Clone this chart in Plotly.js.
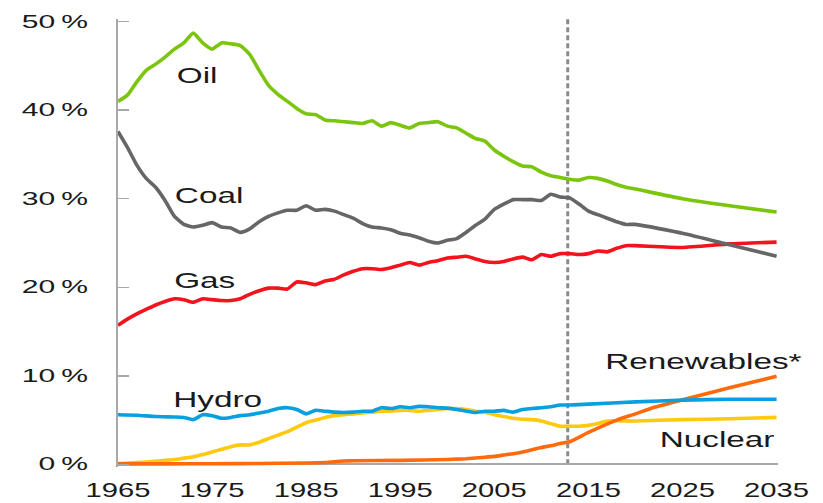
<!DOCTYPE html>
<html>
<head>
<meta charset="utf-8">
<script src="https://cdn.plot.ly/plotly-3.0.1.min.js"></script>
<style>
  html, body { margin: 0; padding: 0; background: #fff; }
  #chart { width: 823px; height: 503px; }
</style>
</head>
<body>
<div id="chart"></div>
<script>
// ---- Data (share of primary energy, %) ----
const oilYears = [1965,1966,1967,1968,1969,1970,1971,1972,1973,1974,1975,1976,1977,1978,1979,1980,1981,1982,1983,1984,1985,1986,1987,1988,1989,1990,1991,1992,1993,1994,1995,1996,1997,1998,1999,2000,2001,2002,2003,2004,2005,2006,2007,2008,2009,2010,2011,2012,2013,2014,2015,2016,2017,2018,2019,2020,2025,2030,2035];
const oilShare = [41.0,41.7,43.2,44.5,45.2,46.0,46.9,47.6,48.7,47.6,46.9,47.6,47.5,47.3,46.3,44.5,42.8,41.8,41.0,40.2,39.6,39.5,38.9,38.8,38.7,38.6,38.5,38.8,38.2,38.6,38.3,38.0,38.5,38.6,38.7,38.2,38.0,37.4,36.8,36.5,35.5,34.8,34.2,33.7,33.6,33.0,32.6,32.4,32.2,32.1,32.4,32.3,32.0,31.6,31.3,31.1,30.0,29.2,28.5];

const coalYears = [1965,1966,1967,1968,1969,1970,1971,1972,1973,1974,1975,1976,1977,1978,1979,1980,1981,1982,1983,1984,1985,1986,1987,1988,1989,1990,1991,1992,1993,1994,1995,1996,1997,1998,1999,2000,2001,2002,2003,2004,2005,2006,2007,2008,2009,2010,2011,2012,2013,2014,2015,2016,2017,2018,2019,2020,2025,2030,2035];
const coalShare = [37.6,35.8,33.8,32.3,31.3,29.8,28.0,27.1,26.8,27.0,27.3,26.8,26.7,26.2,26.6,27.4,28.0,28.4,28.7,28.7,29.2,28.7,28.8,28.6,28.2,27.8,27.2,26.8,26.7,26.5,26.1,25.9,25.6,25.2,25.0,25.3,25.5,26.2,27.0,27.7,28.8,29.4,29.9,29.9,29.9,29.8,30.5,30.2,30.1,29.4,28.6,28.2,27.8,27.4,27.1,27.1,26.1,24.8,23.5];

const gasYears = [1965,1966,1967,1968,1969,1970,1971,1972,1973,1974,1975,1976,1977,1978,1979,1980,1981,1982,1983,1984,1985,1986,1987,1988,1989,1990,1991,1992,1993,1994,1995,1996,1997,1998,1999,2000,2001,2002,2003,2004,2005,2006,2007,2008,2009,2010,2011,2012,2013,2014,2015,2016,2017,2018,2019,2020,2025,2030,2035];
const gasShare = [15.7,16.4,17.0,17.5,18.0,18.4,18.7,18.6,18.3,18.7,18.6,18.5,18.5,18.7,19.2,19.6,19.9,19.9,19.8,20.6,20.5,20.3,20.7,20.9,21.4,21.8,22.1,22.1,22.0,22.2,22.5,22.8,22.5,22.8,23.0,23.3,23.4,23.5,23.2,22.9,22.8,22.9,23.2,23.4,23.1,23.7,23.5,23.8,23.8,23.7,23.8,24.1,24.0,24.4,24.7,24.7,24.5,24.9,25.1];

const hydroYears = [1965,1967,1969,1971,1972,1973,1974,1975,1976,1977,1978,1979,1980,1981,1982,1983,1984,1985,1986,1987,1988,1989,1990,1991,1992,1993,1994,1995,1996,1997,1998,1999,2000,2001,2002,2003,2004,2005,2006,2007,2008,2009,2010,2011,2012,2013,2015,2020,2025,2030,2035];
const hydroShare = [5.6,5.55,5.4,5.35,5.3,5.05,5.6,5.5,5.2,5.3,5.5,5.6,5.8,6.0,6.3,6.4,6.2,5.7,6.1,6.0,5.9,5.85,5.9,6.0,6.0,6.4,6.3,6.5,6.4,6.55,6.5,6.4,6.35,6.2,6.0,5.85,6.0,6.0,6.1,5.9,6.2,6.3,6.4,6.5,6.7,6.7,6.8,7.05,7.25,7.35,7.35];

const nuclearYears = [1965,1966,1967,1968,1969,1970,1971,1972,1973,1974,1975,1976,1977,1978,1979,1980,1981,1982,1983,1984,1985,1986,1987,1988,1989,1990,1991,1992,1993,1994,1995,1996,1997,1998,1999,2000,2001,2002,2003,2004,2005,2006,2007,2008,2009,2010,2011,2012,2013,2014,2015,2016,2017,2020,2025,2030,2035];
const nuclearShare = [0.1,0.15,0.2,0.25,0.35,0.45,0.55,0.7,0.85,1.1,1.4,1.7,2.0,2.2,2.2,2.5,2.9,3.3,3.7,4.2,4.7,5.0,5.3,5.5,5.6,5.7,5.8,5.9,6.0,6.0,6.1,6.1,6.0,6.1,6.2,6.3,6.3,6.2,6.0,5.9,5.6,5.4,5.2,5.1,5.05,4.9,4.6,4.3,4.3,4.3,4.4,4.6,4.9,4.9,5.05,5.15,5.3];

const renewYears = [1965,1970,1975,1980,1985,1987,1988,1989,1990,1995,2000,2002,2004,2005,2006,2007,2008,2009,2010,2011,2012,2013,2015,2018,2020,2022,2025,2030,2035];
const renewShare = [0.05,0.05,0.07,0.1,0.15,0.2,0.3,0.37,0.4,0.45,0.55,0.64,0.8,0.9,1.05,1.2,1.4,1.65,1.9,2.1,2.35,2.55,3.6,5.0,5.7,6.45,7.3,8.65,9.95];

const forecastStart = 2012.8;

const yTickValues = [0,10,20,30,40,50];
const yTickLabels = ["0\u2009%","10\u2009%","20\u2009%","30\u2009%","40\u2009%","50\u2009%"];
const xTickValues = [1965,1975,1985,1995,2005,2015,2025,2035];
const xTickLabels = ["1965","1975","1985","1995","2005","2015","2025","2035"];

const seriesNames = ["Oil","Coal","Gas","Hydro","Nuclear","Renewables*"];
const seriesColors = ["#7cc50e","#666666","#f2141c","#0aa0df","#ffc90e","#ff6a0d"];

// ---- Traces ----
const xs = [oilYears, coalYears, gasYears, hydroYears, nuclearYears, renewYears];
const ys = [oilShare, coalShare, gasShare, hydroShare, nuclearShare, renewShare];
const order = [4,5,3,2,1,0];
const traces = order.map(i => ({
  type: 'scatter', mode: 'lines', name: seriesNames[i],
  x: xs[i], y: ys[i],
  line: { color: seriesColors[i], width: 3.6, shape: 'spline', smoothing: 0.5 },
  hoverinfo: 'skip'
}));

const FONT = 'Liberation Sans, Arial, sans-serif';
const textFont = { family: FONT, size: 21.5, color: '#1a1a1a' };
function label(text, x, y) {
  return { text: text, x: x, y: y, xref: 'x', yref: 'y', xanchor: 'center', yanchor: 'middle',
           showarrow: false, font: textFont };
}

const layout = {
  width: 823, height: 503,
  margin: { l: 118, r: 45, t: 19, b: 36 },
  paper_bgcolor: '#ffffff', plot_bgcolor: '#ffffff',
  showlegend: false,
  xaxis: {
    range: [1965, 2035.15],
    showgrid: false, zeroline: false, showline: false,
    ticks: '', tickvals: xTickValues, ticktext: xTickLabels, tickangle: 0,
    tickfont: { family: FONT, size: 21, color: '#1a1a1a' },
    ticklabelstandoff: 8
  },
  yaxis: {
    range: [-0.3, 50.3],
    showgrid: false,
    zeroline: true, zerolinecolor: '#a8a8a8', zerolinewidth: 2,
    showline: true, linecolor: '#a8a8a8', linewidth: 2.5,
    ticks: 'inside', ticklen: 11, tickwidth: 1.5, tickcolor: '#a8a8a8',
    tickvals: yTickValues, ticktext: yTickLabels,
    tickfont: { family: FONT, size: 17.5, color: '#1a1a1a' },
    ticklabelstandoff: 24
  },
  shapes: [{
    type: 'line', xref: 'x', yref: 'y', x0: forecastStart, x1: forecastStart, y0: 0, y1: 50.3,
    line: { color: '#8a8a8a', width: 3, dash: '5px,3px' }, layer: 'below'
  }],
  annotations: [
    label('Oil', 1973.39, 43.9),
    label('Coal', 1974.72, 30.3),
    label('Gas', 1974.24, 20.7),
    label('Hydro', 1975.62, 7.24),
    label('Renewables*', 2027.25, 11.6),
    label('Nuclear', 2028.68, 2.7)
  ]
};

// horizontal stretch of the typeface, as in the reference artwork
function stretch(selector, factor) {
  document.querySelectorAll(selector).forEach(t => {
    const w = t.getComputedTextLength();
    if (w > 0) {
      t.setAttribute('lengthAdjust', 'spacingAndGlyphs');
      t.setAttribute('textLength', (w * factor).toFixed(2));
    }
  });
}

Plotly.newPlot('chart', traces, layout, { displayModeBar: false, staticPlot: true }).then(() => {
  stretch('#chart .xtick text', 1.39);
  stretch('#chart .ytick text', 1.72);
  stretch('#chart .annotation-text', 1.55);
});
</script>
</body>
</html>
